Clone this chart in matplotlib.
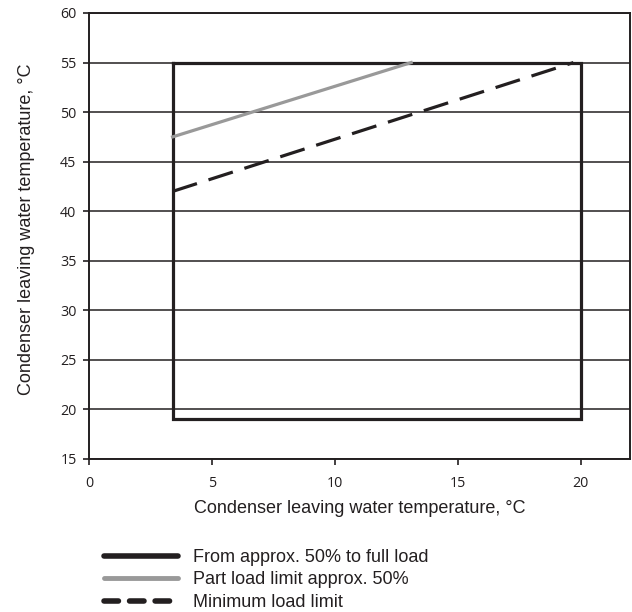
import matplotlib
matplotlib.use("Agg")
import matplotlib.pyplot as plt
from matplotlib.lines import Line2D

# Data
box_x = [3.4, 20, 20, 3.4, 3.4]
box_y = [55, 55, 19, 19, 55]
part_x = [3.4, 13.1]
part_y = [47.5, 55]
min_x = [3.4, 19.7]
min_y = [42, 55]
x_ticks = [0, 5, 10, 15, 20]
y_ticks = [15, 20, 25, 30, 35, 40, 45, 50, 55, 60]
labels = ["From approx. 50% to full load", "Part load limit approx. 50%", "Minimum load limit"]

dark = "#231f20"
grey = "#999999"

fig = plt.figure(figsize=(6.32, 6.12), dpi=100)
ax = fig.add_axes([89/632, 1 - 459/612, (630-89)/632, (459-13)/612])

for y in y_ticks:
    ax.axhline(y, color=dark, lw=1.1, zorder=1)

ax.plot(box_x, box_y, color=dark, lw=2.3, solid_joinstyle="miter", zorder=3)
ax.plot(part_x, part_y, color=grey, lw=2.3, zorder=3)
ax.plot(min_x, min_y, color=dark, lw=2.3, dashes=(8, 3.8), zorder=3)

ax.set_xlim(0, 22)
ax.set_ylim(15, 60)
ax.set_xticks(x_ticks)
ax.set_yticks(y_ticks)
tick_font = "Open Sans"
for lab in ax.get_xticklabels() + ax.get_yticklabels():
    lab.set_fontfamily(tick_font)
    lab.set_fontsize(10.3)
    lab.set_color(dark)
ax.tick_params(axis="both", direction="out", length=4, width=1.2, color=dark, pad=5)
ax.tick_params(axis="x", pad=8)
for s in ax.spines.values():
    s.set_color(dark)
    s.set_linewidth(1.4)

ax.set_xlabel("Condenser leaving water temperature, °C", fontsize=13, family="Liberation Sans",
              color=dark)
ax.set_ylabel("Condenser leaving water temperature, °C", fontsize=13, family="Liberation Sans",
              color=dark)
ax.xaxis.set_label_coords(0.5, (459 - 500) / 446)
ax.yaxis.set_label_coords((35 - 89) / 541, 0.515)

handles = [
    Line2D([], [], color=dark, lw=4, solid_capstyle="round"),
    Line2D([], [], color=grey, lw=3.5, solid_capstyle="round"),
    Line2D([], [], color=dark, lw=4, dashes=(2.6, 2.0), dash_capstyle="round"),
]
fig.legend(handles, labels, loc="center left", bbox_to_anchor=(90/632, 1 - 580/612),
           frameon=False, handlelength=4.1, handletextpad=0.8, labelspacing=0.3,
           borderpad=0.3, prop={"family": "Liberation Sans", "size": 13}, labelcolor=dark)

fig.savefig("out.png", dpi=100)
